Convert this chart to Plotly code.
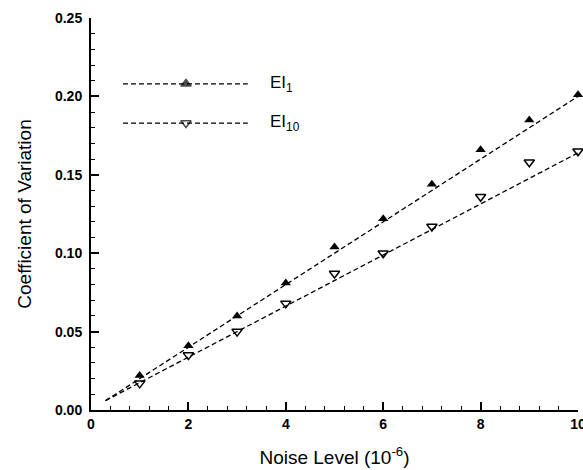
import plotly.graph_objects as go

noise = [1, 2, 3, 4, 5, 6, 7, 8, 9, 10]
ei1 = [0.022, 0.041, 0.060, 0.081, 0.104, 0.122, 0.144, 0.166, 0.185, 0.201]
ei10 = [0.017, 0.035, 0.050, 0.068, 0.087, 0.100, 0.117, 0.136, 0.158, 0.165]

fit_x = [0.3, 10]
fit_ei1 = [0.006, 0.200]
fit_ei10 = [0.006, 0.164]

legend_names = ["EI<sub>1</sub>", "EI<sub>10</sub>"]
legend_symbols = ["triangle-up", "triangle-down-open"]

FONT = "Liberation Sans, Arial, sans-serif"
DASH = "5px,3px"

fig = go.Figure()

fig.add_trace(go.Scatter(x=fit_x, y=fit_ei1, mode="lines",
                         line=dict(color="black", width=1.3, dash=DASH),
                         showlegend=False, hoverinfo="skip"))
fig.add_trace(go.Scatter(x=fit_x, y=fit_ei10, mode="lines",
                         line=dict(color="black", width=1.3, dash=DASH),
                         showlegend=False, hoverinfo="skip"))
fig.add_trace(go.Scatter(x=noise, y=ei1, mode="markers", cliponaxis=False,
                         marker=dict(symbol="triangle-up", size=9, color="black"),
                         showlegend=False))
fig.add_trace(go.Scatter(x=noise, y=ei10, mode="markers", cliponaxis=False,
                         marker=dict(symbol="triangle-down-open", size=9, color="black",
                                     line=dict(width=1.5, color="black")),
                         showlegend=False))

# manual legend on an overlay axis in [0,1] units
leg_x = [0.0657, 0.195, 0.322]
leg_y = [0.832, 0.732]
for i in range(2):
    fig.add_trace(go.Scatter(x=leg_x, y=[leg_y[i]] * 3, mode="lines+markers",
                             xaxis="x2", yaxis="y2",
                             line=dict(color="black", width=1.3, dash=DASH),
                             marker=dict(symbol=legend_symbols[i], size=[0, 9, 0], color="black",
                                         line=dict(width=1.5, color="black")),
                             showlegend=False, hoverinfo="skip"))
    fig.add_annotation(x=0.363, y=leg_y[i], xref="paper", yref="paper",
                       text=legend_names[i], showarrow=False, xanchor="left", yanchor="middle",
                       font=dict(family=FONT, size=17, color="black"))

fig.update_layout(
    width=583, height=470,
    margin=dict(l=91, r=5, t=18, b=60),
    paper_bgcolor="white", plot_bgcolor="white",
    font=dict(family=FONT, color="black"),
    showlegend=False,
    xaxis=dict(range=[0, 10], tickvals=[0, 2, 4, 6, 8, 10],
               ticktext=["<b>0</b>", "<b>2</b>", "<b>4</b>", "<b>6</b>", "<b>8</b>", "<b>10</b>"],
               ticks="inside", ticklen=8, tickwidth=1.5, tickcolor="black",
               minor=dict(dtick=0.4, tick0=0, ticks="inside", ticklen=4, tickwidth=1, tickcolor="black"),
               showline=True, linecolor="black", linewidth=2, showgrid=False, zeroline=False,
               tickfont=dict(size=14, family=FONT), automargin=False, ticklabeloverflow="allow",
               title=dict(text="Noise Level (10<sup>-6</sup>)", font=dict(size=19, family=FONT), standoff=20)),
    yaxis=dict(range=[0, 0.25], tickvals=[0, 0.05, 0.10, 0.15, 0.20, 0.25],
               ticktext=["<b>0.00</b>", "<b>0.05</b>", "<b>0.10</b>", "<b>0.15</b>", "<b>0.20</b>", "<b>0.25</b>"],
               ticks="inside", ticklen=8, tickwidth=1.5, tickcolor="black",
               minor=dict(dtick=0.01, tick0=0, ticks="inside", ticklen=4, tickwidth=1, tickcolor="black"),
               showline=True, linecolor="black", linewidth=2, showgrid=False, zeroline=False,
               tickfont=dict(size=14, family=FONT), automargin=False, ticklabelstandoff=4,
               title=dict(text="Coefficient of Variation", font=dict(size=19, family=FONT), standoff=18)),
    xaxis2=dict(range=[0, 1], overlaying="x", visible=False),
    yaxis2=dict(range=[0, 1], overlaying="y", visible=False),
)

fig.write_html("out.html", config={"displayModeBar": False},
               post_script="document.body.style.margin='0';")
